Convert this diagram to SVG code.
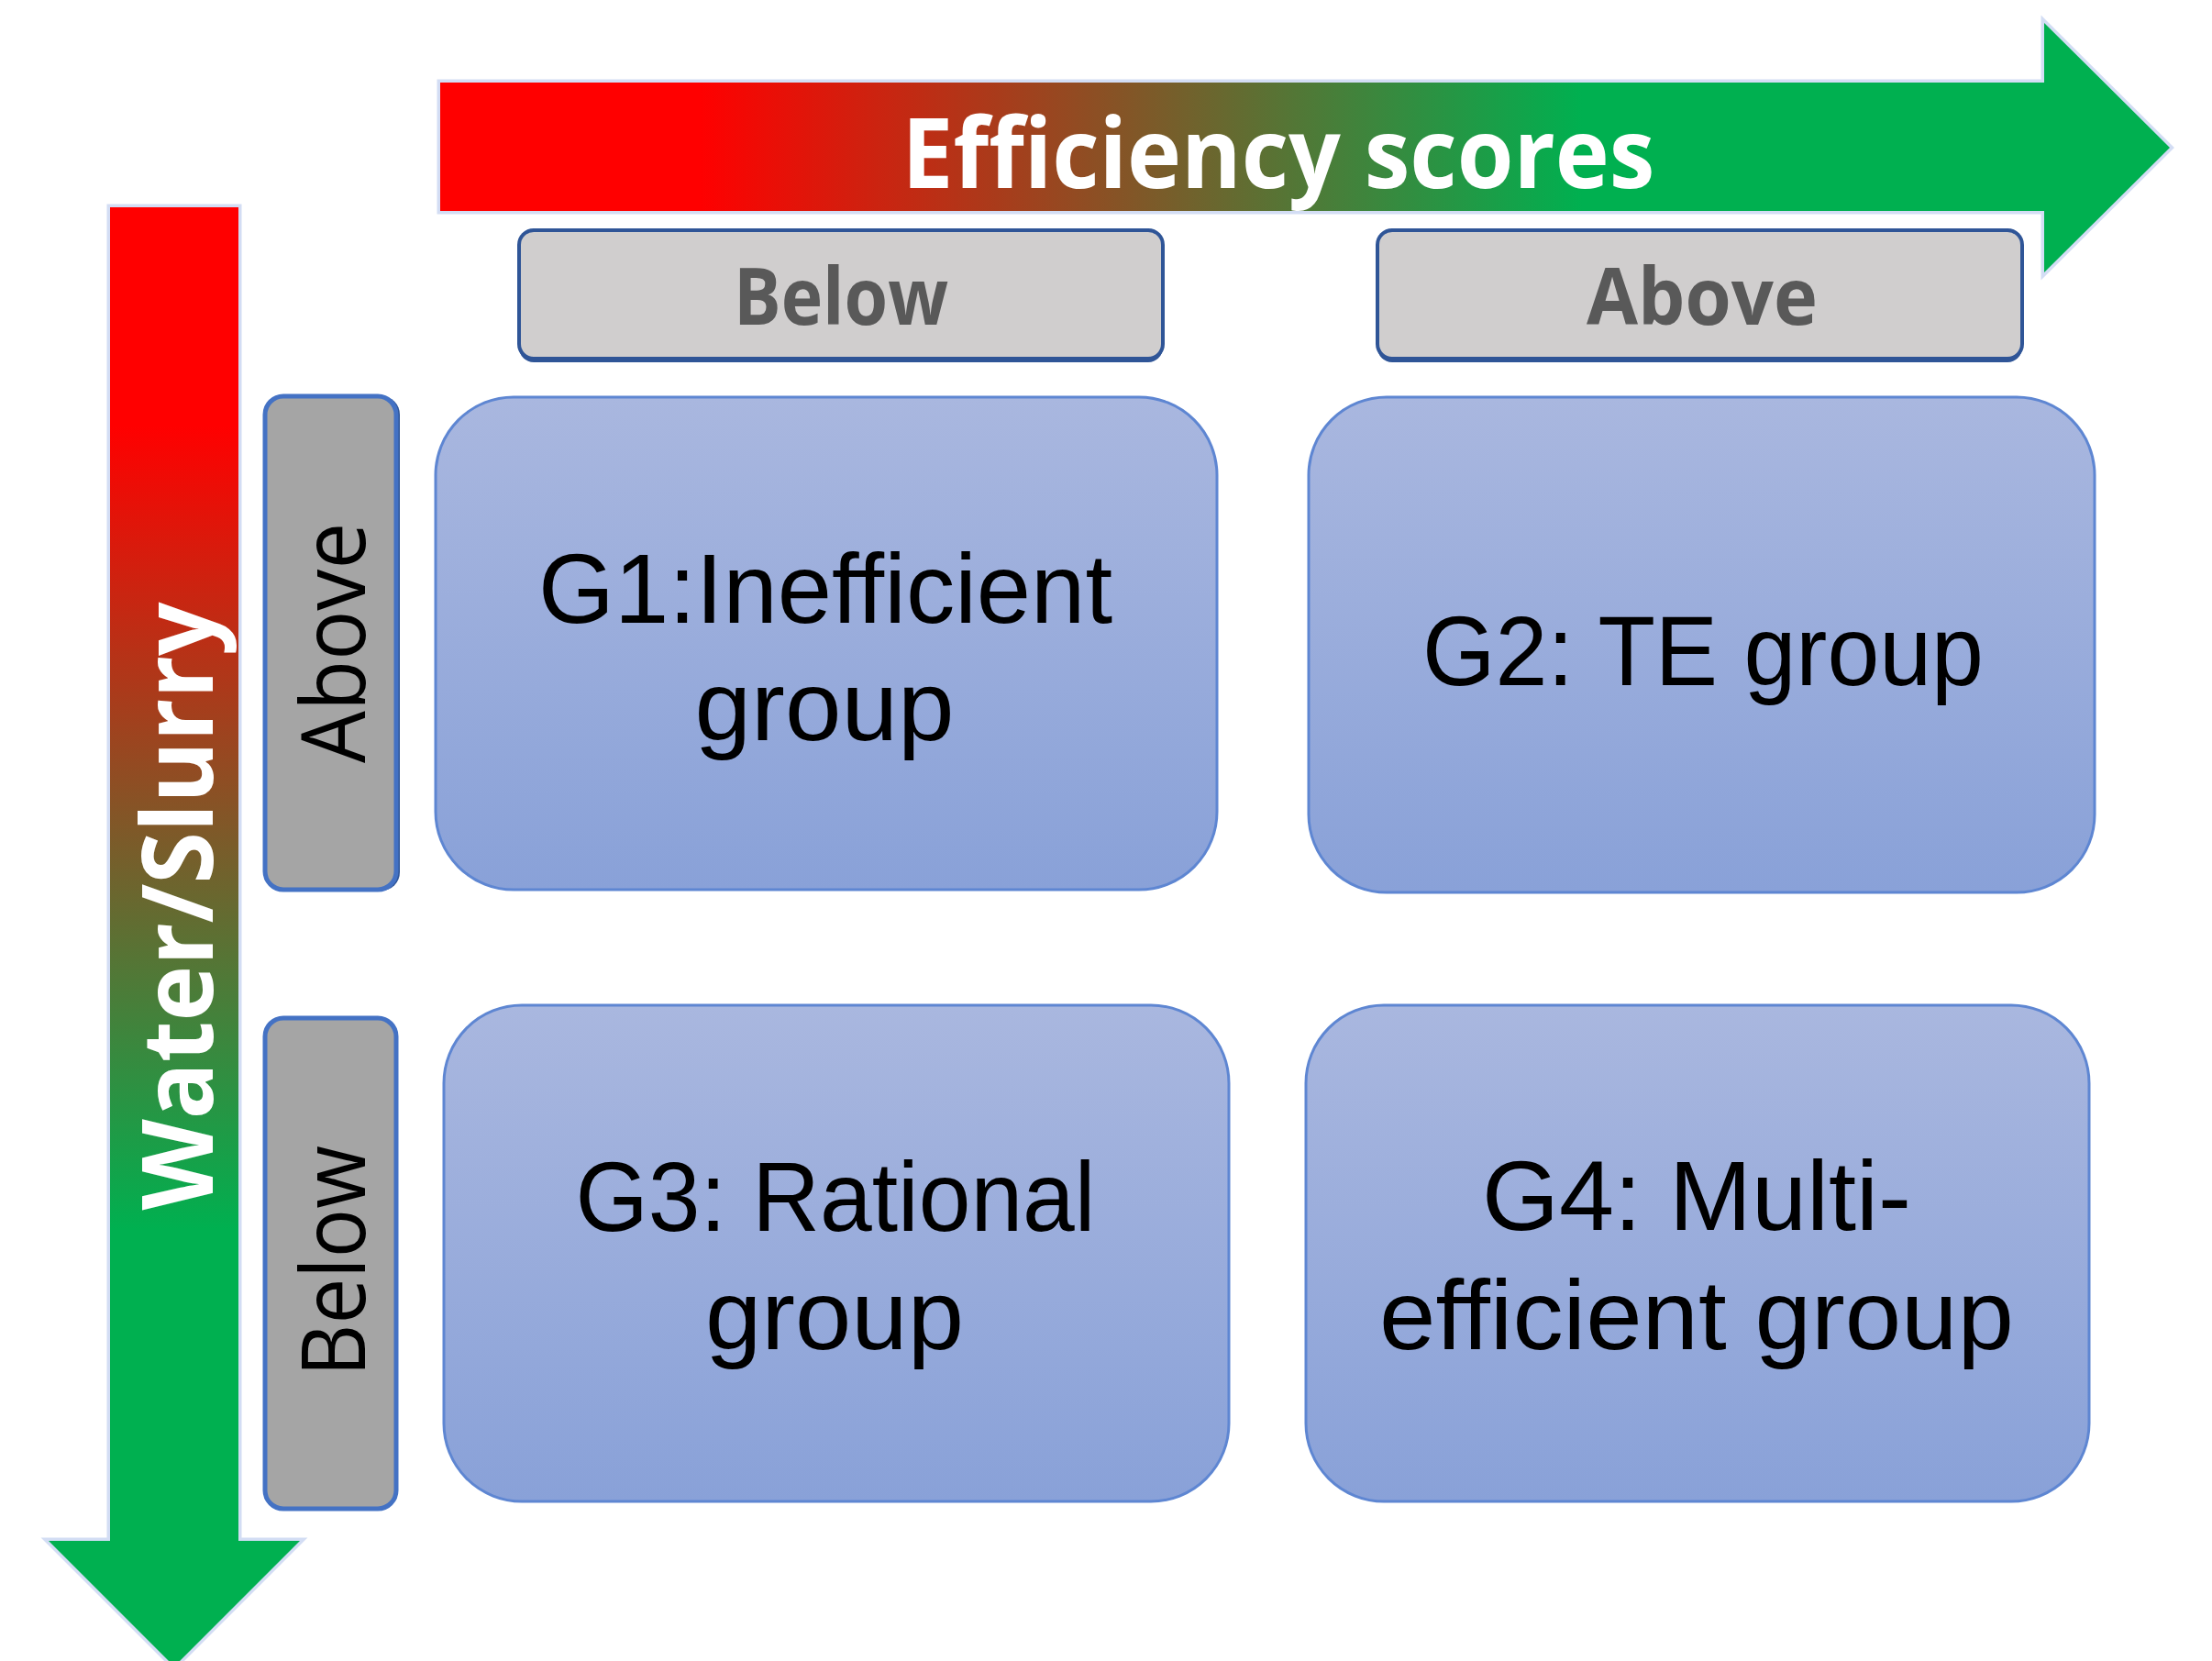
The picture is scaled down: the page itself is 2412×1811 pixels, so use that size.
<svg xmlns="http://www.w3.org/2000/svg" width="2412" height="1811" viewBox="0 0 2412 1811">
  <defs>
    <linearGradient id="gradH" gradientUnits="userSpaceOnUse" x1="480" y1="0" x2="2366" y2="0">
      <stop offset="0" stop-color="#FF0000"/>
      <stop offset="0.15" stop-color="#FF0000"/>
      <stop offset="0.66" stop-color="#00B050"/>
      <stop offset="1" stop-color="#00B050"/>
    </linearGradient>
    <linearGradient id="gradV" gradientUnits="userSpaceOnUse" x1="0" y1="226" x2="0" y2="1817">
      <stop offset="0" stop-color="#FF0000"/>
      <stop offset="0.15" stop-color="#FF0000"/>
      <stop offset="0.70" stop-color="#00B050"/>
      <stop offset="1" stop-color="#00B050"/>
    </linearGradient>
    <linearGradient id="gradBox" x1="0" y1="0" x2="0" y2="1">
      <stop offset="0" stop-color="#A9B7DF"/>
      <stop offset="1" stop-color="#89A1D8"/>
    </linearGradient>
  </defs>
  <style>
    .arrow { stroke: #D3DDF4; stroke-width: 7; paint-order: stroke; stroke-linejoin: miter; }
    .axisLabel { font-family: "Open Sans", "Liberation Sans", sans-serif; font-weight: bold; fill: #FFFFFF; text-anchor: middle; }
    .hdrBox { fill: #D0CECE; stroke: #2F5597; stroke-width: 4; }
    .hdrText { font-family: "Open Sans", "Liberation Sans", sans-serif; font-weight: bold; font-size: 86px; fill: #595959; text-anchor: middle; }
    .sideBox { fill: #A5A5A5; stroke: #4472C4; stroke-width: 5; }
    .sideText { font-family: "Open Sans", "Liberation Sans", sans-serif; font-size: 97px; fill: #000000; text-anchor: middle; }
    .groupBox { fill: url(#gradBox); stroke: #5E86D2; stroke-width: 3; }
    .groupText { font-family: "Liberation Sans", "Open Sans", sans-serif; font-size: 108px; fill: #000000; text-anchor: middle; }
  </style>

  <!-- axis arrows -->
  <g id="connectors">
    <path id="axis-efficiency" class="arrow" fill="url(#gradH)" d="M480,90 L2229,90 L2229,25 L2366,161 L2229,297 L2229,230 L480,230 Z"/>
    <path id="axis-water" class="arrow" fill="url(#gradV)" d="M120,226 L260,226 L260,1680 L327,1680 L190,1817 L53,1680 L120,1680 Z"/>
  </g>

  <text class="axisLabel" x="1394" y="205" font-size="106" textLength="821" lengthAdjust="spacingAndGlyphs">Efficiency scores</text>
  <text class="axisLabel" transform="translate(232,988) rotate(-90)" x="0" y="0" font-size="108" textLength="663" lengthAdjust="spacingAndGlyphs">Water/Slurry</text>

  <!-- column headers -->
  <g id="hdr-below">
    <rect x="566" y="254" width="702" height="141" rx="16" fill="#2F5597"/>
    <rect class="hdrBox" x="566" y="251" width="702" height="140" rx="16"/>
    <text class="hdrText" x="917" y="354" textLength="234" lengthAdjust="spacingAndGlyphs">Below</text>
  </g>
  <g id="hdr-above">
    <rect x="1502" y="254" width="703" height="141" rx="16" fill="#2F5597"/>
    <rect class="hdrBox" x="1502" y="251" width="703" height="140" rx="16"/>
    <text class="hdrText" x="1856" y="354" textLength="252" lengthAdjust="spacingAndGlyphs">Above</text>
  </g>

  <!-- row headers -->
  <g id="row-above">
    <rect x="292" y="432" width="144" height="539" rx="20" fill="#2F5597"/>
    <rect class="sideBox" x="289" y="432" width="143" height="538" rx="20"/>
    <text class="sideText" transform="translate(398,701) rotate(-90)" x="0" y="0" textLength="262" lengthAdjust="spacingAndGlyphs">Above</text>
  </g>
  <g id="row-below">
    <rect class="sideBox" x="289" y="1110" width="143" height="535" rx="20"/>
    <text class="sideText" transform="translate(398,1375) rotate(-90)" x="0" y="0" textLength="252" lengthAdjust="spacingAndGlyphs">Below</text>
  </g>

  <!-- group quadrants -->
  <g id="g1">
    <rect class="groupBox" x="475" y="433" width="852" height="537" rx="85"/>
    <text class="groupText" x="900" y="679" textLength="626" lengthAdjust="spacingAndGlyphs">G1:Inefficient</text>
    <text class="groupText" x="899" y="807" textLength="283" lengthAdjust="spacingAndGlyphs">group</text>
  </g>
  <g id="g2">
    <rect class="groupBox" x="1427" y="433" width="857" height="540" rx="85"/>
    <text class="groupText" x="1857" y="747" textLength="612" lengthAdjust="spacingAndGlyphs">G2: TE group</text>
  </g>
  <g id="g3">
    <rect class="groupBox" x="484" y="1096" width="856" height="541" rx="85"/>
    <text class="groupText" x="911" y="1342" textLength="567" lengthAdjust="spacingAndGlyphs">G3: Rational</text>
    <text class="groupText" x="910" y="1471" textLength="282" lengthAdjust="spacingAndGlyphs">group</text>
  </g>
  <g id="g4">
    <rect class="groupBox" x="1424" y="1096" width="854" height="541" rx="85"/>
    <text class="groupText" x="1850" y="1341" textLength="468" lengthAdjust="spacingAndGlyphs">G4: Multi-</text>
    <text class="groupText" x="1850" y="1471" textLength="692" lengthAdjust="spacingAndGlyphs">efficient group</text>
  </g>
</svg>
